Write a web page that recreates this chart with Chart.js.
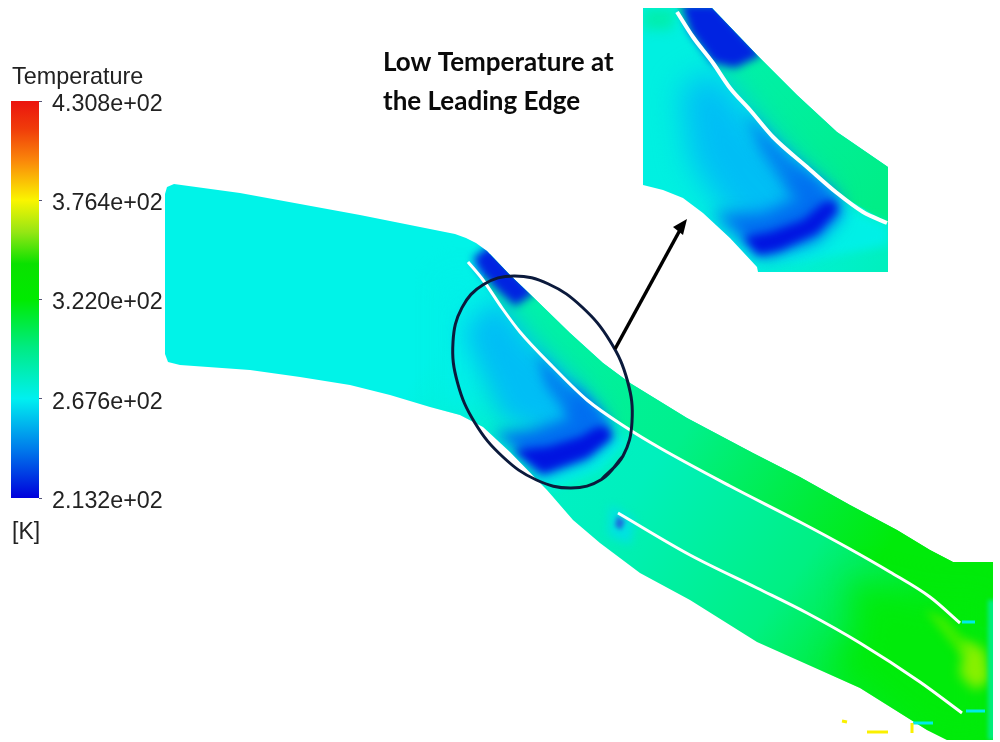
<!DOCTYPE html>
<html>
<head>
<meta charset="utf-8">
<script src="https://cdn.jsdelivr.net/npm/chart.js@4"></script>
<style>
  html, body { margin: 0; background: #fff; }
  canvas { position: absolute; left: 0; top: 0; }
</style>
</head>
<body>
<canvas id="flow" width="1000" height="742"></canvas>
<canvas id="legend" width="180" height="742"></canvas>
<script>
// Colour bar values, kelvin
const tempTicks = [430.8, 376.4, 322.0, 267.6, 213.2];
const tempRange = [213.2, 430.8];

// Outlines, [x, y]
const duct = [[165,194],[167,187],[174,184],[240,193],[300,204],[360,215],[420,227],[455,234],[466,238],[476,243],[487,251],[510,275],[533,297],[570,333],[603,363],[630,383],[687,418],[753,453],[800,477],[850,505],[897,530],[930,550],[953,562],[993,562],[993,740],[947,740],[927,730],[860,688],[813,667],[757,642],[690,600],[640,573],[600,543],[573,520],[547,490],[510,452],[483,427],[460,415],[430,407],[390,395],[350,385],[300,377],[250,370],[180,365],[168,362],[165,354]];
const upperPassage = [[490,254],[510,275],[533,297],[570,333],[603,363],[630,383],[687,418],[753,453],[800,477],[850,505],[897,530],[930,550],[953,562],[993,562],[993,628],[960,623],[930,597],[890,572],[815,530],[800,522],[660,448],[627,428],[587,400],[553,367],[520,332],[483,280]];
const bladeUpper = [[468,262],[483,280],[502,308],[520,332],[553,367],[587,400],[627,428],[660,448],[730,486],[800,522],[850,549],[890,572],[930,597],[960,623]];
const bladeLower = [[618,513],[690,555],[757,588],[807,613],[860,643],[920,682],[962,713]];
const tipUpper = [[473,258],[490,245],[535,293],[515,306],[497,290],[480,272]];
const coreLight = [[497,297],[530,340],[580,387],[603,417],[597,440],[547,435],[503,420],[477,363],[463,330]];
const coreBlade = [[535,352],[560,376],[597,410],[605,425],[570,420],[545,385]];
const coreMid = [[573,385],[607,420],[613,437],[587,460],[540,477],[517,450],[493,433],[530,430],[570,417]];
const coreDark = [[607,427],[612,437],[587,457],[543,473],[530,463],[513,450],[547,447],[580,437],[597,427]];
const coreHalo = [[612,435],[628,442],[600,470],[550,490],[532,475]];
const ringLeft = [[470,270],[440,280],[440,400],[480,420],[480,330]];
const notch = [[617,516],[625,521],[621,530],[615,526]];
const notchHalo = [[610,505],[635,520],[630,545],[608,535]];
const hotBand = [[850,580],[930,600],[993,600],[993,740],[930,735],[830,660],[860,640]];
const hotStreak = [[925,610],[945,618],[975,650],[960,655]];
const hotSpot = [[965,640],[985,650],[990,680],[975,690],[960,675]];
const outletEdge = [[988,600],[996,600],[996,740],[988,740]];

const ring = [[623,456],[601.5,479.5],[571,488],[536.5,480],[503,457],[475,423],[457.5,382.6],[453,342],[462,307.6],[483.5,284.5],[514,276],[548.5,284],[582,307],[610,341],[627.5,381],[632,422],[623,456],[601.5,479.5]];
const arrowShaft = [[615,349],[680,230]];
const arrowHead = [[687,219],[673,227],[683,235]];

// Stray marks in the outlet corner of the picture
const strayYellow = [[[867,732],[888,732]], [[912,723],[912,733]], [[842,721],[847,722]]];
const strayCyan = [[[913,723],[933,723]], [[962,622],[975,622]], [[966,711],[985,711]]];

// Inset close-up
const inset = [[643,8],[712,8],[757,55],[797,95],[837,132],[888,167],[888,272],[758,272],[757,267],[730,238],[703,213],[683,198],[663,190],[643,185]];
const insetPassage = [[677,8],[712,8],[757,55],[797,95],[837,132],[888,167],[888,223],[837,193],[773,137],[730,88],[693,37]];
const insetBlade = [[677,12],[693,37],[713,63],[730,88],[750,110],[773,137],[807,167],[837,193],[863,212],[887,223]];
const insetTip = [[681,4],[716,4],[762,55],[735,68],[713,63],[690,32]];
const insetLight = [[713,70],[745,110],[790,160],[830,195],[815,235],[765,250],[720,205],[690,160],[680,90]];
const insetAlong = [[745,112],[775,142],[825,188],[835,200],[790,195],[760,150]];
const insetMid = [[790,165],[837,197],[843,213],[817,240],[763,258],[740,237],[713,213],[763,213],[797,197]];
const insetDark = [[833,200],[838,210],[817,233],[780,250],[758,255],[743,237],[770,232],[803,220],[823,203]];
const insetHalo = [[838,205],[888,225],[888,245],[800,262],[770,262]];
const insetCorner = [[643,8],[677,8],[672,30],[643,30]];

// Soft patches, drawn from the points the scales placed
const softPatches = {
  id: "softPatches",
  beforeDatasetDraw(chart, args) {
    const ds = chart.data.datasets[args.index];
    if (!ds.soft) return;
    const { x, y } = chart.scales;
    const ctx = chart.ctx;
    ctx.save();
    ctx.beginPath();
    ds.clipTo.forEach(([px, py], i) => {
      const X = x.getPixelForValue(px), Y = y.getPixelForValue(py);
      i ? ctx.lineTo(X, Y) : ctx.moveTo(X, Y);
    });
    ctx.closePath();
    ctx.clip();
    ctx.filter = "blur(" + ds.soft + "px)";
    ctx.fillStyle = ds.softColor;
    ctx.beginPath();
    args.meta.data.forEach((pt, i) => (i ? ctx.lineTo(pt.x, pt.y) : ctx.moveTo(pt.x, pt.y)));
    ctx.closePath();
    ctx.fill();
    ctx.restore();
  },
  afterDraw(chart) {
    const { x, y } = chart.scales;
    const ctx = chart.ctx;
    ctx.save();
    ctx.fillStyle = "#0a0a0a";
    ctx.font = "bold 26px Lato";
    ctx.textBaseline = "alphabetic";
    ctx.fillText("Low Temperature at", x.getPixelForValue(383), y.getPixelForValue(71));
    ctx.fillText("the Leading Edge", x.getPixelForValue(383), y.getPixelForValue(110));
    ctx.restore();
  },
};

function toPoints(list) {
  return list.map(([x, y]) => ({ x, y }));
}

function shape(list, extra) {
  return { data: toPoints(list), showLine: true, pointRadius: 0, borderWidth: 0, ...extra };
}

function soft(list, color, blur, clipTo) {
  return shape(list, { soft: blur, softColor: color, clipTo });
}

function sweep(from, to, stops) {
  return (c) => {
    const { x, y } = c.chart.scales;
    const x0 = x ? x.getPixelForValue(from[0]) : NaN;
    const y0 = y ? y.getPixelForValue(from[1]) : NaN;
    // scales have no size yet on the first pass
    if (!Number.isFinite(x0) || !Number.isFinite(y0)) return stops[0][1];
    const g = c.chart.ctx.createLinearGradient(x0, y0, x.getPixelForValue(to[0]), y.getPixelForValue(to[1]));
    stops.forEach(([at, col]) => g.addColorStop(at, col));
    return g;
  };
}

const bladeLine = { borderColor: "#fff", cubicInterpolationMode: "monotone" };

// paint order, first one is at the bottom
const layers = [
  shape(duct, {
    fill: "shape",
    backgroundColor: sweep([470, 300], [990, 680], [
      [0, "rgb(0,243,232)"], [0.1, "rgb(0,241,212)"], [0.38, "rgb(0,240,188)"],
      [0.66, "rgb(0,240,130)"], [0.83, "rgb(0,236,40)"], [1, "rgb(0,235,10)"],
    ]),
  }),
  shape(upperPassage, {
    fill: "shape",
    backgroundColor: sweep([530, 320], [880, 560], [
      [0, "rgb(0,241,170)"], [0.45, "rgb(0,240,140)"], [0.78, "rgb(0,236,60)"], [1, "rgb(0,235,10)"],
    ]),
  }),
  soft(ringLeft, "rgb(0,240,232)", 14, duct),
  soft(hotBand, "rgb(0,235,10)", 16, duct),
  soft(hotStreak, "rgb(60,238,0)", 4, duct),
  soft(hotSpot, "rgb(135,240,0)", 6, duct),
  soft(outletEdge, "rgb(0,238,130)", 2, duct),
  soft(coreHalo, "rgb(0,240,225)", 4, duct),
  soft(coreLight, "rgb(0,190,245)", 12, duct),
  soft(coreBlade, "rgb(0,130,240)", 6, duct),
  soft(coreMid, "rgb(0,110,240)", 7, duct),
  soft(coreDark, "rgb(0,20,225)", 4, duct),
  soft(tipUpper, "rgb(0,35,225)", 4, duct),
  soft(notchHalo, "rgb(0,225,225)", 5, duct),
  soft(notch, "rgb(30,110,220)", 2, duct),
  shape(bladeUpper, { ...bladeLine, borderWidth: 3 }),
  shape(bladeLower, { ...bladeLine, borderWidth: 3 }),
  ...strayCyan.map((m) => shape(m, { borderColor: "rgb(0,235,235)", borderWidth: 3 })),
  ...strayYellow.map((m) => shape(m, { borderColor: "rgb(250,240,0)", borderWidth: 3 })),

  shape(inset, {
    fill: "shape",
    backgroundColor: sweep([643, 100], [888, 260], [
      [0, "rgb(0,240,225)"], [0.6, "rgb(0,241,225)"], [1, "rgb(0,240,190)"],
    ]),
  }),
  shape(insetPassage, {
    fill: "shape",
    backgroundColor: sweep([700, 60], [880, 200], [[0, "rgb(0,241,175)"], [1, "rgb(0,238,135)"]]),
  }),
  soft(insetCorner, "rgb(0,238,175)", 6, inset),
  soft(insetHalo, "rgb(0,240,230)", 5, inset),
  soft(insetLight, "rgb(0,190,245)", 15, inset),
  soft(insetAlong, "rgb(0,130,240)", 7, inset),
  soft(insetMid, "rgb(0,110,240)", 8, inset),
  soft(insetDark, "rgb(0,20,225)", 5, inset),
  soft(insetTip, "rgb(0,35,225)", 4, inset),
  shape(insetBlade, { ...bladeLine, borderWidth: 4 }),

  shape(ring, { borderColor: "#0b1a3c", borderWidth: 3, tension: 0.4 }),
  shape(arrowShaft, { borderColor: "#000", borderWidth: 3.5 }),
  shape(arrowHead, { fill: "shape", backgroundColor: "#000" }),
];

new Chart(document.getElementById("flow"), {
  type: "scatter",
  data: { datasets: layers.reverse() },
  plugins: [softPatches],
  options: {
    responsive: false,
    animation: false,
    events: [],
    layout: { padding: 0 },
    plugins: { legend: { display: false }, tooltip: { enabled: false } },
    scales: {
      x: { type: "linear", min: 0, max: 1000, display: false },
      y: { type: "linear", min: 0, max: 742, reverse: true, display: false },
    },
  },
});

// Colour bar with its own temperature axis
const barCaptions = {
  id: "barCaptions",
  afterDraw(chart) {
    const ctx = chart.ctx;
    ctx.save();
    ctx.fillStyle = "#222";
    ctx.font = "23.4px 'Liberation Sans'";
    ctx.fillText("Temperature", 12, 84);
    ctx.font = "23px 'Liberation Sans'";
    ctx.fillText("[K]", 12, 539);
    ctx.restore();
  },
};

new Chart(document.getElementById("legend"), {
  type: "bar",
  data: {
    labels: [""],
    datasets: [{
      data: [tempRange],
      barPercentage: 1,
      categoryPercentage: 1,
      backgroundColor: (c) => {
        const y = c.chart.scales.y;
        if (!y || !Number.isFinite(y.top) || !Number.isFinite(y.bottom)) return "#0f0";
        const g = c.chart.ctx.createLinearGradient(0, y.top, 0, y.bottom);
        [
          [0, "rgb(235,20,15)"], [0.07, "rgb(240,60,10)"], [0.15, "rgb(250,135,10)"],
          [0.25, "rgb(250,245,0)"], [0.33, "rgb(150,230,20)"], [0.41, "rgb(10,225,0)"],
          [0.5, "rgb(0,235,0)"], [0.62, "rgb(0,235,130)"], [0.75, "rgb(0,240,240)"],
          [0.88, "rgb(0,120,235)"], [1, "rgb(0,0,220)"],
        ].forEach(([at, col]) => g.addColorStop(at, col));
        return g;
      },
    }],
  },
  plugins: [barCaptions],
  options: {
    responsive: false,
    animation: false,
    events: [],
    layout: { padding: { left: 11, top: 101, bottom: 244, right: 0 } },
    plugins: { legend: { display: false }, tooltip: { enabled: false } },
    scales: {
      x: { display: false, grid: { display: false } },
      y: {
        position: "right",
        min: tempRange[0],
        max: tempRange[1],
        afterFit: (s) => { s.width = 141; },
        afterBuildTicks: (s) => { s.ticks = tempTicks.map((value) => ({ value })); },
        grid: { drawOnChartArea: false, tickLength: 3, color: "#557" },
        border: { display: false },
        ticks: {
          padding: 10,
          labelOffset: 3.5,
          color: "#222",
          autoSkip: false,
          maxRotation: 0,
          font: { family: "'Liberation Sans'", size: 23.3 },
          callback: (v) => v.toExponential(3).replace("e+2", "e+02"),
        },
      },
    },
  },
});
</script>
</body>
</html>
